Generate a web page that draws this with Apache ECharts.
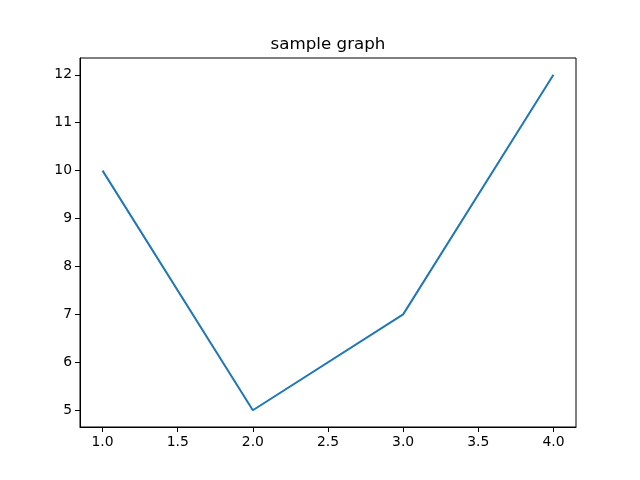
<!DOCTYPE html>
<html>
<head>
<meta charset="utf-8">
<script src="https://cdn.jsdelivr.net/npm/echarts@6/dist/echarts.min.js"></script>
<style>html,body{margin:0;padding:0;background:#fff}#c{width:640px;height:480px}</style>
</head>
<body>
<div id="c"></div>
<script>
var titleText = "sample graph";
var xValues = [1, 2, 3, 4];
var yValues = [10, 5, 7, 12];
var xTicks = [1.0, 1.5, 2.0, 2.5, 3.0, 3.5, 4.0];
var yTicks = [5, 6, 7, 8, 9, 10, 11, 12];

var chart = echarts.init(document.getElementById('c'), null, {renderer: 'canvas'});
var font = 'DejaVu Sans';
chart.setOption({
  animation: false,
  backgroundColor: '#fff',
  title: {
    text: titleText, left: 323, top: 31, textAlign: 'center',
    textStyle: {fontFamily: font, fontSize: 16.7, fontWeight: 'normal', color: '#000'}
  },
  grid: {left: 80, right: 64, top: 58, bottom: 53, show: true, borderColor: '#000', borderWidth: 1, containLabel: false},
  xAxis: {
    type: 'value', min: 0.85, max: 4.15,
    splitLine: {show: false},
    axisLine: {show: true, lineStyle: {color: '#000', width: 1}},
    axisTick: {show: true, customValues: xTicks, length: 5, lineStyle: {color: '#000'}},
    axisLabel: {customValues: xTicks, margin: 8, fontFamily: font, fontSize: 13.9, color: '#000',
      formatter: function (v) { return Number(v).toFixed(1); }}
  },
  yAxis: {
    type: 'value', min: 4.65, max: 12.35,
    splitLine: {show: false},
    axisLine: {show: true, lineStyle: {color: '#000', width: 1}},
    axisTick: {show: true, customValues: yTicks, length: 5, lineStyle: {color: '#000'}},
    axisLabel: {customValues: yTicks, margin: 8, fontFamily: font, fontSize: 13.9, color: '#000',
      formatter: function (v) { return String(Math.round(v)); }}
  },
  series: [{
    type: 'line',
    data: xValues.map(function (x, i) { return [x, yValues[i]]; }),
    showSymbol: false,
    lineStyle: {color: '#1f77b4', width: 2},
    itemStyle: {color: '#1f77b4'}
  }]
});
</script>
</body>
</html>
